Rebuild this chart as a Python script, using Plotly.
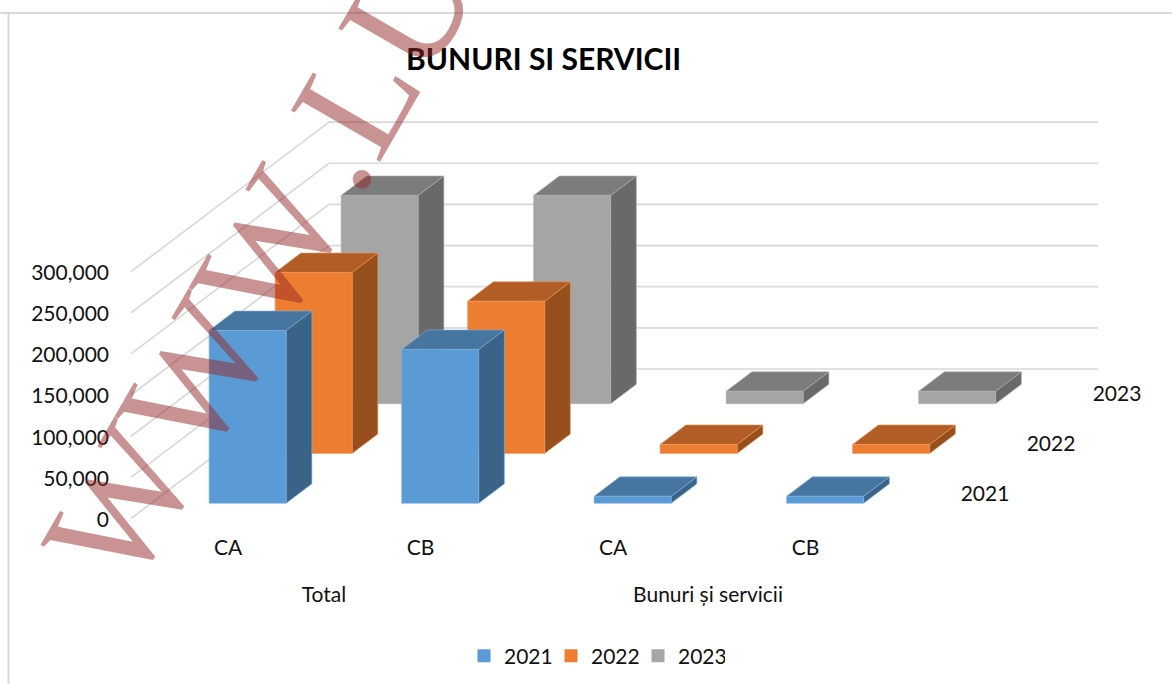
import plotly.graph_objects as go

# ---- data ----
title = "BUNURI SI SERVICII"
series_names = ["2021", "2022", "2023"]
groups = ["Total", "Bunuri și servicii"]
categories = ["CA", "CB", "CA", "CB"]
values_2021 = [210000, 187000, 8500, 8500]
values_2022 = [220000, 185000, 11000, 11000]
values_2023 = [253000, 253000, 15000, 15000]
tick_values = [0, 50000, 100000, 150000, 200000, 250000, 300000]
watermark = "WWW\u200a.LU"

series_values = [values_2021, values_2022, values_2023]

# ---- styles ----
front = ["#5B9BD5", "#ED7D31", "#A5A5A5"]
top = ["#4675A0", "#B25D25", "#7C7C7C"]
side = ["#3A6487", "#964F1D", "#696969"]
edge = ["#7FB1DE", "#F0985E", "#AEAEAE"]
FONT = "Lato"
FS = 21

W, H = 1172, 684
PX_PER_VAL = 0.000823
ZERO_PX = 518.5


def val_at(py):
    return (ZERO_PX - py) / PX_PER_VAL


# oblique projection of the Excel 3-D column chart
DX, DY = 66.0, 49.83                 # pixel shift per depth slot
SLOT_X0, SLOT_STEP = 189.0, 192.5    # first category, category spacing
BAR_W = 77.0
D_FRONT, D_DEPTH = 0.305, 0.39
WALL_X = 131.0
RIGHT_X = 1098.0


def project(x, d, v):
    return x + d * DX, v + val_at(ZERO_PX - d * DY)


def poly(points):
    xs, ys = zip(*[project(*p) for p in points])
    return list(xs) + [xs[0], None], list(ys) + [ys[0], None]


fig = go.Figure()

# gridlines: side wall then back wall
gx, gy = [], []
for v in tick_values:
    a = project(WALL_X, 0, v)
    b = project(WALL_X, 3, v)
    gx += [a[0], b[0], RIGHT_X, None]
    gy += [a[1], b[1], b[1], None]
fig.add_trace(go.Scatter(x=gx, y=gy, mode="lines", line=dict(color="#D9D9D9", width=1.7),
                         hoverinfo="skip", showlegend=False))

# bars, back series first
for s in (2, 1, 0):
    fx, fy, tx, ty, sx, sy = [], [], [], [], [], []
    d0 = s + D_FRONT
    d1 = d0 + D_DEPTH
    for c, v in enumerate(series_values[s]):
        x0 = SLOT_X0 + c * SLOT_STEP
        x1 = x0 + BAR_W
        px, py = poly([(x0, d0, 0), (x1, d0, 0), (x1, d0, v), (x0, d0, v)])
        fx += px; fy += py
        px, py = poly([(x0, d0, v), (x1, d0, v), (x1, d1, v), (x0, d1, v)])
        tx += px; ty += py
        px, py = poly([(x1, d0, 0), (x1, d1, 0), (x1, d1, v), (x1, d0, v)])
        sx += px; sy += py
    for xs, ys, col in ((sx, sy, side[s]), (tx, ty, top[s]), (fx, fy, front[s])):
        fig.add_trace(go.Scatter(x=xs, y=ys, mode="lines", fill="toself", fillcolor=col,
                                 line=dict(color=edge[s], width=0.6),
                                 hoverinfo="skip", showlegend=False))

# legend entries
for s, name in enumerate(series_names):
    fig.add_trace(go.Scatter(x=[None], y=[None], mode="markers", name=name,
                             marker=dict(symbol="square", size=13, color=front[s])))

# category, group and depth labels
cat_x = [189.5 + i * SLOT_STEP + 38.5 for i in range(len(categories))]
group_x = [324, 708]
depth_x = [985 + 66 * i for i in range(3)]
depth_y = [val_at(495.5 - 49.7 * i) for i in range(3)]
fig.add_trace(go.Scatter(
    x=cat_x + group_x + depth_x,
    y=[val_at(550)] * 4 + [val_at(597)] * 2 + depth_y,
    text=categories + groups + series_names,
    mode="text", textposition="middle center",
    textfont=dict(family=FONT, size=FS, color="#111111"),
    hoverinfo="skip", showlegend=False))

annotations = [
    dict(text=f"<b>{title}</b>", x=543, y=val_at(58), xref="x", yref="y", showarrow=False,
         font=dict(family=FONT, size=30, color="#000000")),
    dict(text=watermark, x=260, y=val_at(264), xref="x", yref="y", showarrow=False, textangle=-60,
         font=dict(family="Liberation Serif", size=157, color="rgba(150,40,40,0.5)")),
]

fig.update_layout(
    width=W, height=H, margin=dict(l=0, r=0, t=0, b=0, pad=0),
    paper_bgcolor="#FFFFFF", plot_bgcolor="rgba(0,0,0,0)",
    xaxis=dict(range=[0, W], visible=False, fixedrange=True),
    yaxis=dict(range=[val_at(H), val_at(0)], tickvals=tick_values, tickformat=",",
               anchor="free", position=109 / W, showgrid=False, zeroline=False, showline=False,
               ticks="", ticklabelshift=1,
               tickfont=dict(family=FONT, size=FS, color="#111111"), fixedrange=True),
    legend=dict(orientation="h", x=594.5 / W, xanchor="center", y=(H - 656) / H, yanchor="middle",
                font=dict(family=FONT, size=FS, color="#111111"), itemwidth=30,
                bgcolor="rgba(0,0,0,0)", entrywidthmode="pixels", entrywidth=42),
    showlegend=True,
    annotations=annotations,
    shapes=[
        dict(type="line", xref="paper", yref="paper", x0=0, x1=1, y0=1 - 13 / H, y1=1 - 13 / H,
             line=dict(color="#D9D9D9", width=2)),
        dict(type="line", xref="paper", yref="paper", x0=8.5 / W, x1=8.5 / W, y0=0, y1=1 - 13 / H,
             line=dict(color="#D9D9D9", width=2)),
    ],
)

fig.write_html("out.html", config={"displayModeBar": False},
               post_script="document.body.style.margin='0';")
